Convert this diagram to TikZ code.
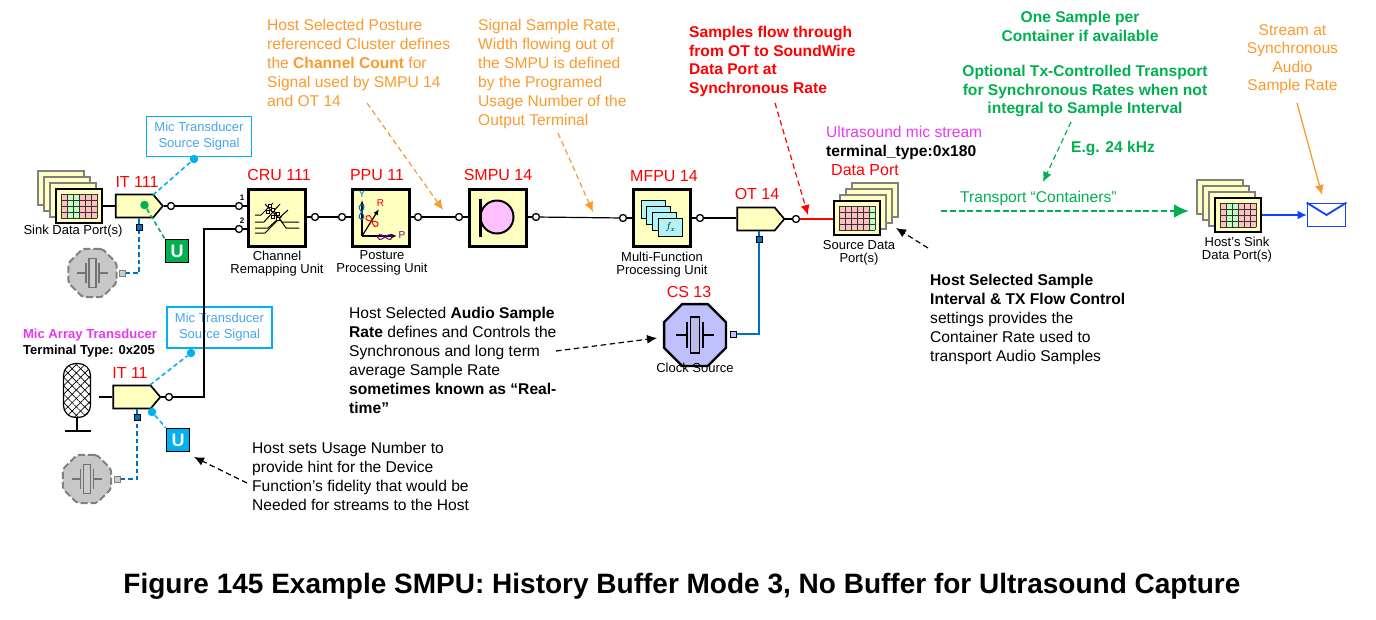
\documentclass[tikz,border=0pt]{standalone}
\usepackage{fontspec}
\setmainfont{Liberation Sans}
\usetikzlibrary{calc}
\usetikzlibrary{arrows.meta}
\usetikzlibrary{shapes.geometric,shapes.symbols}
\usetikzlibrary{patterns.meta}
\definecolor{boxyellow}{HTML}{FFFFC0}
\definecolor{pinkcell}{HTML}{FFC0C0}
\definecolor{greencell}{HTML}{C0FFC0}
\definecolor{noteorange}{HTML}{FA9A2E}
\definecolor{notegreen}{HTML}{00B050}
\definecolor{notecyan}{HTML}{00B0F0}
\definecolor{micblue}{HTML}{45A5EE}
\definecolor{wireblue}{HTML}{0070C0}
\definecolor{hostblue}{HTML}{1040FF}
\definecolor{csfill}{HTML}{C0C0FF}
\definecolor{sheetcyan}{HTML}{B0F4F8}
\definecolor{magtext}{HTML}{E838F0}
\definecolor{smpupink}{HTML}{FFC0FF}

% stack of port sheets: name, x, y, sheet shift, green columns from, to
\newcommand{\dataport}[6]{
   \foreach \k in {3,2,1}{
      \node[sheet] (#1b\k) at (#2+\k*#4,#3-\k*6) {};
   }
   \node[sheet,draw=black,line width=1.8] (#1) at (#2,#3) {};
   \fill[pinkcell] (#2-18,#3-12) rectangle (#2+18,#3+12);
   \fill[greencell] (#2-18+6*#5,#3-12) rectangle (#2-18+6*#6,#3+12);
   \foreach \k in {0,...,6}{
      \draw[black!80,line width=0.7] (#2-18+6*\k,#3-12) -- (#2-18+6*\k,#3+12);
   }
   \foreach \k in {0,...,4}{
      \draw[black!80,line width=0.7] (#2-18,#3-12+6*\k) -- (#2+18,#3-12+6*\k);
   }
}
% crystal inside a clock: x, y, scale, colour
\newcommand{\crystal}[4]{
   \begin{scope}[shift={(#1,#2)},scale=#3,draw=#4,line width=1.3]
      \draw[fill=white!70!#4,fill opacity=0.35] (-4.5,-18) rectangle (4.5,18);
      \draw (-8,-13) -- (-8,13);
      \draw ( 8,-13) -- ( 8,13);
      \draw (-19,0) -- (-8,0);
      \draw ( 19,0) -- ( 8,0);
   \end{scope}
}
% one lobe of the posture picture: x, y, angle, colour
\newcommand{\lobe}[4]{
   \draw[#4,line width=1] (#1,#2) .. controls +(#3+40:13) and +(#3-40:13) .. (#1,#2)
      .. controls +(#3+140:13) and +(#3+220:13) .. (#1,#2);
}

\begin{document}
\begin{tikzpicture}[x=1pt,y=-1pt,
      txt/.style = {font=\fontsize{15.6}{18.9}\selectfont,align=left,anchor=north west,inner sep=0},
      txtb/.style = {txt,font=\fontsize{15.6}{18.7}\selectfont\bfseries},
      txtc/.style = {txtb,align=center,anchor=north},
      small/.style = {font=\fontsize{13}{13}\selectfont,align=center,anchor=north,inner sep=0},
      unitname/.style = {font=\fontsize{16}{18}\selectfont,red,inner sep=0},
      unit/.style = {draw,line width=3,fill=boxyellow,minimum width=57,minimum height=57,inner sep=0},
      sheet/.style = {draw=black!50,line width=1.6,fill=boxyellow,minimum width=46.5,minimum height=33.5,inner sep=0},
      terminal/.style = {signal,signal to=east,signal pointer angle=100,draw,line width=1.7,
         fill=boxyellow,minimum width=47,minimum height=23,inner sep=0},
      pin/.style = {circle,draw,line width=1.3,fill=white,minimum size=7,inner sep=0},
      wire/.style = {line width=1.2},
      square/.style = {draw,line width=1,fill=#1,minimum size=6,inner sep=0},
      ubox/.style = {draw,line width=1.5,fill=#1,text=white,minimum size=23,inner sep=0,
         font=\fontsize{18}{18}\selectfont\bfseries},
      micbox/.style = {draw=notecyan,line width=1.2,text=micblue,align=center,inner sep=0,
         font=\fontsize{13}{16}\selectfont},
      dot/.style = {circle,fill=#1,minimum size=8.5,inner sep=0},
      clock/.style = {regular polygon,regular polygon sides=8,inner sep=0,minimum size=#1},
      grayclock/.style = {clock=52,draw=black!50,line width=2,dash pattern=on 7pt off 3pt,fill=black!22,rounded corners=2},
      link/.style = {line width=1.6,dash pattern=on 4.5pt off 3pt},
      note/.style = {line width=1.2,dash pattern=on 5.5pt off 3.5pt,-{Latex[length=10pt,width=9pt]}},
]
      \useasboundingbox (0,0) rectangle (1376,619);

      % input side
      \dataport{sink111}{79}{206}{-6}{1}{3}
      \node[small] (sink111t) at (73,224.5) {Sink Data Port(s)};
      \node[terminal] (it111) at (134.5,206) {};
      \node[unitname] (it111t) at (137,182) {IT 111};
      \node[pin] (pit111) at (171,206) {};
      \node[dot=notegreen] (dotu111) at (144.5,205) {};
      \node[ubox=notegreen] (u111) at (177,251) {U};
      \node[micbox,minimum width=105,minimum height=40] (mic111) at (199,136.5) {Mic Transducer\\Source Signal};
      \node[dot=notecyan] (dotmic111) at (194,159) {};
      \coordinate (it111a) at (153,195);
      \node[square=wireblue] (sq111) at (139,227) {};
      \node[grayclock] (clk111) at (92.5,273) {};
      \crystal{92.5}{273}{0.8}{black!55}
      \node[square=black!20,draw=black!50] (sqc111) at (122,273) {};

      \draw[wire] (sink111.east) -- (it111.west);
      \draw[wire] (it111.east) -- (pit111);
      \draw[link,notegreen] (dotu111) -- (u111.north west);
      \draw[link,notecyan] (it111a) -- (dotmic111);
      \draw[link,wireblue] (sqc111) -| (sq111);
      \draw[wire,wireblue] (sq111) -- (sq111 |- it111.south);

      \node[font=\fontsize{13.1}{14}\selectfont\bfseries,text=magtext,inner sep=0] (mica) at (90,335) {Mic Array Transducer};
      \node[font=\fontsize{13}{14}\selectfont\bfseries,inner sep=0] (micb) at (89,351) {Terminal Type: 0x205};
      \node[draw,line width=1.2,rounded corners=12,minimum width=27,minimum height=54,
         pattern={Lines[angle=45,distance=6pt,line width=0.7pt]},
         postaction={pattern={Lines[angle=-45,distance=6pt,line width=0.7pt]}}] (mic) at (77,390.5) {};
      \coordinate (micfoot) at (77,431);
      \coordinate (micfootl) at (65,431);
      \coordinate (micfootr) at (91,431);
      \draw[line width=1.6] (mic.south) -- (micfoot);
      \draw[line width=2] (micfootl) -- (micfootr);
      \coordinate (micout) at (99,397);
      \node[terminal] (it11) at (132,397) {};
      \node[unitname] (it11t) at (130,373) {IT 11};
      \node[pin] (pit11) at (169,397) {};
      \node[micbox,minimum width=105,minimum height=41] (mic11) at (219.5,327.5) {Mic Transducer\\Source Signal};
      \node[dot=notecyan] (dotmic11) at (191,353) {};
      \coordinate (it11a) at (150,385);
      \node[dot=notecyan] (dotu11) at (152,412) {};
      \node[ubox=notecyan] (u11) at (178,440) {U};
      \node[square=wireblue] (sq11) at (137,417) {};
      \node[grayclock] (clk11) at (87,479) {};
      \crystal{87}{479}{0.8}{black!55}
      \node[square=black!20,draw=black!50] (sqc11) at (117,479) {};

      \draw[wire] (micout) -- (it11.west);
      \draw[wire] (it11.east) -- (pit11);
      \draw[link,notecyan] (it11a) -- (dotmic11);
      \draw[link,notecyan] (dotu11) -- (u11.north west);
      \draw[link,wireblue] (sqc11) -| (sq11);
      \draw[wire,wireblue] (sq11) -- (sq11 |- it11.south);

      % channel remapping
      \node[unit] (cru) at (277,217.5) {};
      \node[unitname] (crut) at (279,175) {CRU 111};
      \node[pin] (pcru1) at (239,206) {};
      \node[pin] (pcru2) at (239,229) {};
      \node[font=\fontsize{8}{8}\selectfont\bfseries,inner sep=0] (pcru1t) at (242,198) {1};
      \node[font=\fontsize{8}{8}\selectfont\bfseries,inner sep=0] (pcru2t) at (242,221) {2};
      \node[small] (crub) at (277,250.5) {Channel\\Remapping Unit};
      \node[pin] (pcruo) at (315,217) {};
      \coordinate (busturn) at (204,397);
      \draw[wire] (pit111) -- (pcru1);
      \draw[wire] (pcru1) -- (pcru1 -| cru.west);
      \draw[wire] (pit11) -- (busturn) |- (pcru2);
      \draw[wire] (pcru2) -- (pcru2 -| cru.west);
      \draw[wire] (cru.east |- pcruo) -- (pcruo);
      \draw[line width=1] (255,215) -- (261,215) -- (273,203);
      \draw[line width=1] (255,222) -- (264,222) -- (280,204);
      \draw[line width=1] (255,228) -- (268,228) -- (288,210);
      \draw[line width=1] (255,233) -- (265,233) -- (282,216);
      \draw[line width=1] (265,204) -- (282,222) -- (299,222);
      \draw[line width=1] (272,208) -- (286,228) -- (299,228);
      \foreach \cx/\cy in {270/206,273/210,268/212,278/214,273/217,278/219}{
         \draw[line width=0.7,fill=boxyellow] (\cx-1.8,\cy-1.8) rectangle (\cx+1.8,\cy+1.8);
      }

      % posture processing
      \node[unit] (ppu) at (380.5,217.5) {};
      \node[unitname] (pput) at (377,175) {PPU 11};
      \node[small] (ppub) at (382,250.5) {Posture\\Processing Unit};
      \node[pin] (pppui) at (342,217) {};
      \node[pin] (pppuo) at (418,217) {};
      \draw[wire] (pcruo) -- (pppui);
      \draw[wire] (pppui) -- (pppui -| ppu.west);
      \draw[wire] (ppu.east |- pppuo) -- (pppuo);
      \coordinate (ppuo) at (362,236);
      \coordinate (ppuy) at (362,200);
      \coordinate (ppur) at (379,209);
      \coordinate (ppup) at (397,236);
      \draw[line width=1.2,-{Latex[length=6pt,width=5pt]}] (ppuo) -- (ppuy);
      \draw[line width=1.2,-{Latex[length=6pt,width=5pt]}] (ppuo) -- (ppur);
      \draw[line width=1.2,-{Latex[length=6pt,width=5pt]}] (ppuo) -- (ppup);
      \lobe{361.5}{212}{90}{wireblue}
      \lobe{372}{221}{40}{red}
      \lobe{385}{237}{0}{violet!80!blue}
      \node[font=\fontsize{10}{10}\selectfont,text=wireblue,inner sep=0] (ppuyt) at (362,194) {Y};
      \node[font=\fontsize{10}{10}\selectfont,red,inner sep=0] (ppurt) at (380.5,203.5) {R};
      \node[font=\fontsize{10}{10}\selectfont,text=violet!80!blue,inner sep=0] (ppupt) at (402,235) {P};

      % SMPU
      \node[unit] (smpu) at (497.5,217.5) {};
      \node[unitname] (smput) at (498,175) {SMPU 14};
      \node[pin] (psmpui) at (459,217) {};
      \node[pin] (psmpuo) at (536,217) {};
      \draw[wire] (pppuo) -- (psmpui);
      \draw[wire] (psmpui) -- (psmpui -| smpu.west);
      \draw[wire] (smpu.east |- psmpuo) -- (psmpuo);
      \node[circle,draw,line width=2,fill=smpupink,minimum size=33,inner sep=0] (smpuc) at (497,217) {};
      \coordinate (smpubt) at (480,199);
      \coordinate (smpubb) at (480,237);
      \draw[line width=3] (smpubt) -- (smpubb);

      % multi-function
      \node[unit] (mfpu) at (662,218) {};
      \node[unitname] (mfput) at (664,176) {MFPU 14};
      \node[small] (mfpub) at (662,251.5) {Multi-Function\\Processing Unit};
      \node[pin] (pmfpui) at (623,218) {};
      \node[pin] (pmfpuo) at (700,218) {};
      \draw[wire] (psmpuo) -- (pmfpui);
      \draw[wire] (pmfpui) -- (pmfpui -| mfpu.west);
      \draw[wire] (mfpu.east |- pmfpuo) -- (pmfpuo);
      \foreach \k in {3,2,1}{
         \node[draw,line width=1,fill=sheetcyan,minimum width=24,minimum height=18,inner sep=0] (mfs\k) at (670.5-\k*5.8,227-\k*6) {};
      }
      \node[draw,line width=1,fill=sheetcyan,minimum width=24,minimum height=18,inner sep=0,
         font=\fontsize{10}{10}\selectfont] (mfs0) at (670.5,227) {$f_x$};

      % output terminal and clock
      \node[terminal] (ot) at (756,219) {};
      \node[unitname] (ott) at (757,194) {OT 14};
      \node[pin] (pot) at (796,219) {};
      \draw[wire] (pmfpuo) -- (ot.west |- pmfpuo);
      \draw[wire] (ot.east) -- (pot);
      \dataport{src}{857}{218}{6}{5}{6}
      \node[small] (srct) at (859,240) {Source Data\\Port(s)};
      \node[unitname] (srcn) at (865,170) {Data Port};
      \draw[line width=1.6,red] (pot) -- (src.west |- pot);
      \node[clock=67,draw,line width=2.4,fill=csfill] (cs) at (695,335) {};
      \crystal{695}{335}{1}{black}
      \node[unitname] (cst) at (689,292) {CS 13};
      \node[small] (csb) at (695,363) {Clock Source};
      \node[square=csfill] (sqcs) at (733,334) {};
      \node[square=wireblue] (sqot) at (759,239) {};
      \draw[line width=1.4,wireblue] (sqcs) -| (sqot);
      \draw[line width=1.4,wireblue] (sqot) -- (sqot |- ot.south);

      % host side
      \dataport{host}{1238}{215}{-6}{1}{3}
      \node[small] (hostt) at (1237,237) {Host's Sink\\Data Port(s)};
      \node[draw=hostblue,line width=1.8,minimum width=38,minimum height=23,inner sep=0] (env) at (1326.5,215) {};
      \draw[line width=1.8,hostblue] (env.north west) -- (env.center) -- (env.north east);
      \draw[line width=1.2,hostblue,-{Latex[length=9pt,width=9pt]}] (host.east) -- (env.west);
      \coordinate (trA) at (941,211);
      \coordinate (trB) at (1189,211);
      \draw[line width=2.6,notegreen,dash pattern=on 6pt off 2.8pt,-{Latex[length=15pt,width=14pt]}] (trA) -- (trB);
      \node[txt,text=notegreen] (trt) at (960,190.5) {Transport “Containers”};

      % notes
      \node[txt,text=noteorange] (n1) at (267,19) {Host Selected Posture\\referenced Cluster defines\\the \textbf{Channel Count} for\\Signal used by SMPU 14\\and OT 14};
      \node[txt,text=noteorange] (n2) at (478,19) {Signal Sample Rate,\\Width flowing out of\\the SMPU is defined\\by the Programed\\Usage Number of the\\Output Terminal};
      \node[txtb,red] (n3) at (689,26) {Samples flow through\\from OT to SoundWire\\Data Port at\\Synchronous Rate};
      \node[txtc,text=notegreen] (n4) at (1080,11) {One Sample per\\Container if available};
      \node[txtc,text=notegreen] (n5) at (1085,65) {Optional Tx-Controlled Transport\\for Synchronous Rates when not\\integral to Sample Interval};
      \node[txtc,text=notegreen] (n6) at (1113,141) {E.g. 24 kHz};
      \node[txtc,text=noteorange,font=\fontsize{15.6}{18.6}\selectfont] (n7) at (1292.5,24) {Stream at\\Synchronous\\Audio\\Sample Rate};
      \node[txt,text=magtext] (n8) at (826,126) {Ultrasound mic stream};
      \node[txtb] (n9) at (826,145) {terminal\_type:0x180};
      \node[txt] (n10) at (930,274) {\textbf{Host Selected Sample}\\\textbf{Interval \& TX Flow Control}\\settings provides the\\Container Rate used to\\transport Audio Samples};
      \node[txt] (n11) at (349,307) {Host Selected \textbf{Audio Sample}\\\textbf{Rate} defines and Controls the\\Synchronous and long term\\average Sample Rate\\\textbf{sometimes known as “Real-}\\\textbf{time”}};
      \node[txt] (n12) at (252,442) {Host sets Usage Number to\\provide hint for the Device\\Function’s fidelity that would be\\Needed for streams to the Host};

      % note arrows
      \coordinate (a1s) at (367,103);
      \coordinate (a1e) at (443,210);
      \draw[note,noteorange] (a1s) -- (a1e);
      \coordinate (a2s) at (558,133);
      \coordinate (a2e) at (593,212);
      \draw[note,noteorange] (a2s) -- (a2e);
      \coordinate (a3s) at (775,103);
      \coordinate (a3e) at (808,215);
      \draw[note,red] (a3s) -- (a3e);
      \coordinate (a4s) at (1071,122);
      \coordinate (a4e) at (1043,182);
      \draw[note,notegreen] (a4s) -- (a4e);
      \coordinate (a5s) at (1297,103);
      \coordinate (a5e) at (1322,195);
      \draw[line width=1.3,noteorange,-{Latex[length=10pt,width=9pt]}] (a5s) -- (a5e);
      \coordinate (a6s) at (928,248);
      \coordinate (a6e) at (896,228);
      \draw[note,black] (a6s) -- (a6e);
      \coordinate (a7s) at (556,351);
      \coordinate (a7e) at (657,338);
      \draw[note,black] (a7s) -- (a7e);
      \coordinate (a8s) at (247,483);
      \coordinate (a8e) at (194,457);
      \draw[note,black] (a8s) -- (a8e);

      \node[font=\fontsize{28}{30}\selectfont\bfseries,inner sep=0] (cap) at (682,586) {Figure 145 Example SMPU: History Buffer Mode 3, No Buffer for Ultrasound Capture};
\end{tikzpicture}
\end{document}
